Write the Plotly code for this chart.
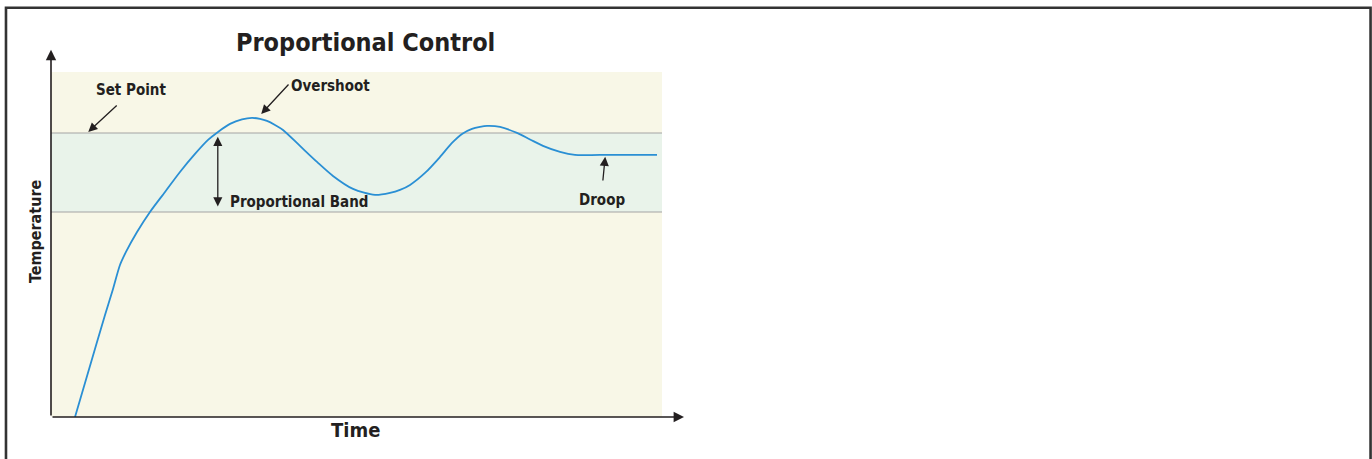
import plotly.graph_objects as go

# Temperature response of a proportional controller (arbitrary units)
time = [3.93, 6.38, 8.84, 10.15, 11.29, 12.27, 14.08, 16.20, 18.66, 21.11, 23.57,
        25.70, 27.33, 29.30, 31.26, 32.90, 34.21, 35.35, 36.66, 37.97, 40.75,
        43.54, 46.15, 49.43, 53.03, 55.48, 57.12, 58.76, 61.21, 63.67, 65.63,
        67.27, 68.90, 70.21, 71.36, 73.49, 76.27, 78.40, 80.52, 83.31, 85.76,
        89.85, 99.18]
temperature = [0.00, 14.78, 29.57, 37.10, 44.06, 47.83, 53.62, 59.42, 65.22, 71.01, 76.23,
               80.29, 82.61, 84.93, 86.23, 86.67, 86.38, 85.80, 84.64, 83.19, 78.55,
               73.91, 69.86, 66.09, 64.35, 64.93, 65.80, 67.25, 70.72, 75.36, 79.42,
               82.03, 83.48, 84.06, 84.35, 84.06, 82.32, 80.43, 78.55, 76.81, 75.94,
               75.94, 75.94]

set_point = 82.3
band_low = 59.4
chart_end = 100.0
chart_top = 100.0
x_max = 105.4
y_max = 107.8

FONT = "DejaVu Sans Condensed, Liberation Sans Narrow, Arial Narrow, sans-serif"
INK = "#231f20"

fig = go.Figure()

# background zones
fig.add_shape(type="rect", x0=0, x1=chart_end, y0=0, y1=chart_top,
              fillcolor="#f8f7e7", line_width=0, layer="below")
fig.add_shape(type="rect", x0=0, x1=chart_end, y0=band_low, y1=set_point,
              fillcolor="#e9f3ea", line_width=0, layer="below")
for level in (set_point, band_low):
    fig.add_shape(type="line", x0=0, x1=chart_end, y0=level, y1=level,
                  line=dict(color="#a3a3a3", width=1.2), layer="below")

fig.add_trace(go.Scatter(
    x=time, y=temperature, mode="lines",
    line=dict(color="#2a8fd4", width=1.8, shape="spline", smoothing=0.8),
    hoverinfo="skip", showlegend=False,
))

# axes drawn as arrows
arrow = dict(showarrow=True, arrowhead=2, arrowsize=1.3, arrowwidth=1.6,
             arrowcolor=INK, text="", xref="x", yref="y", axref="x", ayref="y")
fig.add_annotation(x=103.6, y=0, ax=0, ay=0, **arrow)
fig.add_annotation(x=0, y=106.4, ax=0, ay=0, **arrow)

# callouts
call = dict(showarrow=True, arrowhead=2, arrowsize=1.4, arrowwidth=1.3,
            arrowcolor=INK, text="", xref="x", yref="y", axref="x", ayref="y")
fig.add_annotation(x=6.1, y=82.6, ax=11.0, ay=90.7, **call)
fig.add_annotation(x=34.4, y=87.8, ax=39.1, ay=96.8, **call)
fig.add_annotation(x=90.7, y=75.4, ax=90.3, ay=68.1, **call)
fig.add_annotation(x=27.3, y=81.2, ax=27.3, ay=60.6, arrowside="end+start", **call)

label = dict(showarrow=False, xref="x", yref="y",
             font=dict(family=FONT, size=15, color=INK, weight="bold"))
fig.add_annotation(x=13.1, y=94.8, text="Set Point", **label)
fig.add_annotation(x=45.7, y=95.9, text="Overshoot", **label)
fig.add_annotation(x=29.0, y=62.3, text="Proportional Band", xanchor="left", **label)
fig.add_annotation(x=90.2, y=62.9, text="Droop", **label)

# title and axis names, placed relative to the plot area
centered = dict(showarrow=False, xref="paper", yref="paper",
                xanchor="center", yanchor="middle")
fig.add_annotation(x=0.4876, y=1.008, text="Proportional Control",
                   font=dict(family=FONT, size=25, color=INK, weight="bold"), **centered)
fig.add_annotation(x=0.4736, y=-0.0349, text="Time",
                   font=dict(family=FONT, size=20, color=INK, weight="bold"), **centered)
fig.add_annotation(x=-0.0248, y=0.5, text="Temperature", textangle=-90,
                   font=dict(family=FONT, size=16, color=INK, weight="bold"), **centered)

# outer frame (open at the bottom)
fig.add_shape(type="path", xref="paper", yref="paper",
              path="M -0.0699,-0.12 L -0.0699,1.1 L 2.049,1.1 L 2.049,-0.12",
              line=dict(color="#333333", width=2.6))

fig.update_xaxes(range=[0, x_max], visible=False, fixedrange=True)
fig.update_yaxes(range=[0, y_max], visible=False, fixedrange=True)
fig.update_layout(
    width=1372, height=459,
    margin=dict(l=51, r=677, t=45, b=42),
    paper_bgcolor="white", plot_bgcolor="rgba(0,0,0,0)",
)

fig.write_html("out.html", config={"displayModeBar": False})
